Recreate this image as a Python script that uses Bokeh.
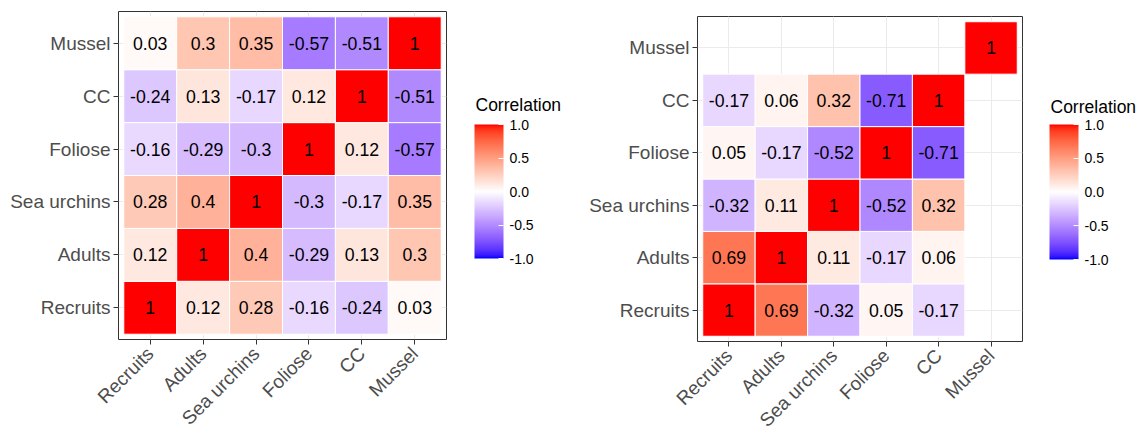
import numpy as np
from bokeh.plotting import figure
from bokeh.layouts import row
from bokeh.models import (ColumnDataSource, FactorRange, Range1d, ColorBar, LinearColorMapper,
                          FixedTicker, PrintfTickFormatter, Label)
from bokeh.core.properties import value
from bokeh.embed import file_html
from bokeh.resources import INLINE

# ---------------- data ----------------
categories = ["Recruits", "Adults", "Sea urchins", "Foliose", "CC", "Mussel"]

# left matrix: rows (y) listed bottom -> top, columns in category order
left_recruits = [1, 0.12, 0.28, -0.16, -0.24, 0.03]
left_adults = [0.12, 1, 0.4, -0.29, 0.13, 0.3]
left_sea_urchins = [0.28, 0.4, 1, -0.3, -0.17, 0.35]
left_foliose = [-0.16, -0.29, -0.3, 1, 0.12, -0.57]
left_cc = [-0.24, 0.13, -0.17, 0.12, 1, -0.51]
left_mussel = [0.03, 0.3, 0.35, -0.57, -0.51, 1]

# right matrix (None = no tile)
right_recruits = [1, 0.69, -0.32, 0.05, -0.17, None]
right_adults = [0.69, 1, 0.11, -0.17, 0.06, None]
right_sea_urchins = [-0.32, 0.11, 1, -0.52, 0.32, None]
right_foliose = [0.05, -0.17, -0.52, 1, -0.71, None]
right_cc = [-0.17, 0.06, 0.32, -0.71, 1, None]
right_mussel = [None, None, None, None, None, 1]

legend_title = "Correlation"
legend_ticks = [-1.0, -0.5, 0.0, 0.5, 1.0]

left_rows = [left_recruits, left_adults, left_sea_urchins, left_foliose, left_cc, left_mussel]
right_rows = [right_recruits, right_adults, right_sea_urchins, right_foliose, right_cc, right_mussel]

# ---------------- colour scale (ggplot gradient2 blue-white-red in Lab) ----------------
def hex_to_rgb(h):
    h = h.lstrip("#")
    return np.array([int(h[i:i + 2], 16) for i in (0, 2, 4)], dtype=float) / 255.0

def srgb_to_lin(c):
    return np.where(c <= 0.04045, c / 12.92, ((c + 0.055) / 1.055) ** 2.4)

def lin_to_srgb(c):
    c = np.clip(c, 0, 1)
    return np.where(c <= 0.0031308, 12.92 * c, 1.055 * c ** (1 / 2.4) - 0.055)

M = np.array([[0.4124564, 0.3575761, 0.1804375],
              [0.2126729, 0.7151522, 0.0721750],
              [0.0193339, 0.1191920, 0.9503041]])
Minv = np.linalg.inv(M)
WHITE = np.array([0.95047, 1.0, 1.08883])

def f_lab(t):
    d = 6 / 29
    return np.where(t > d ** 3, np.cbrt(t), t / (3 * d * d) + 4 / 29)

def finv_lab(t):
    d = 6 / 29
    return np.where(t > d, t ** 3, 3 * d * d * (t - 4 / 29))

def rgb_to_lab(rgb):
    xyz = M @ srgb_to_lin(rgb) / WHITE
    fx, fy, fz = f_lab(xyz)
    return np.array([116 * fy - 16, 500 * (fx - fy), 200 * (fy - fz)])

def lab_to_hex(lab):
    L, a, b = lab
    fy = (L + 16) / 116
    fx = fy + a / 500
    fz = fy - b / 200
    xyz = finv_lab(np.array([fx, fy, fz])) * WHITE
    rgb = lin_to_srgb(Minv @ xyz)
    r, g, b2 = (np.round(rgb * 255)).astype(int)
    return "#%02x%02x%02x" % (r, g, b2)

LAB_LOW = rgb_to_lab(hex_to_rgb("#0000ff"))
LAB_MID = rgb_to_lab(hex_to_rgb("#ffffff"))
LAB_HIGH = rgb_to_lab(hex_to_rgb("#ff0000"))

def corr_color(v):
    if v >= 0:
        lab = LAB_MID + (LAB_HIGH - LAB_MID) * v
    else:
        lab = LAB_MID + (LAB_LOW - LAB_MID) * (-v)
    return lab_to_hex(lab)

palette = [corr_color(v) for v in np.linspace(-1, 1, 256)]

FONT = "Liberation Sans"

def fmt(v):
    return f"{v:g}"

def build(rows, frame_w, frame_h, border_left, border_top, border_bottom, border_right):
    xs, ys, cols, labels = [], [], [], []
    for yi, r in enumerate(rows):
        for xi, v in enumerate(r):
            if v is None:
                continue
            xs.append(categories[xi])
            ys.append(categories[yi])
            cols.append(corr_color(v))
            labels.append(fmt(v))
    src = ColumnDataSource(dict(x=xs, y=ys, c=cols, t=labels))

    p = figure(x_range=FactorRange(factors=categories, range_padding=0.1, range_padding_units="absolute"),
               y_range=FactorRange(factors=categories, range_padding=0.1, range_padding_units="absolute"),
               frame_width=frame_w, frame_height=frame_h, title=None,
               min_border_left=border_left, min_border_top=border_top,
               min_border_bottom=border_bottom, min_border_right=border_right,
               output_backend="svg", toolbar_location=None)
    p.rect(x="x", y="y", width=1, height=1, source=src, fill_color="c",
           line_color="white", line_width=1)
    p.text(x="x", y="y", text="t", source=src, text_align="center", text_baseline="middle",
           text_font=value(FONT), text_font_size="17.7px", text_color="black")

    p.outline_line_color = "#333333"
    p.outline_line_width = 1
    p.grid.grid_line_color = "#ebebeb"
    p.grid.grid_line_width = 1
    for ax in (p.xaxis[0], p.yaxis[0]):
        ax.axis_line_color = None
        ax.major_tick_line_color = "#333333"
        ax.major_tick_out = 5
        ax.major_tick_in = 0
        ax.major_label_text_font = FONT
        ax.major_label_text_font_size = "19px"
        ax.major_label_text_color = "#4d4d4d"
    p.yaxis.major_label_standoff = 3
    p.xaxis.major_label_standoff = 6
    p.xaxis.major_label_orientation = np.pi / 4
    return p

def legend_fig(width, height, frame_h, bar_x, bar_bottom, bar_h, title_x, title_y):
    # frame of this figure is aligned with its neighbour plot: y range = frame pixels
    lg = figure(width=width, height=height, x_range=Range1d(0, width), y_range=Range1d(0, frame_h),
                x_axis_location=None, y_axis_location=None, title=None,
                min_border=0, output_backend="svg", toolbar_location=None)
    lg.outline_line_color = None
    lg.grid.visible = False
    mapper = LinearColorMapper(palette=palette, low=-1, high=1)
    cb = ColorBar(color_mapper=mapper, ticker=FixedTicker(ticks=legend_ticks),
                  formatter=PrintfTickFormatter(format="%.1f"),
                  width=29, height=bar_h, location=(bar_x, bar_bottom), orientation="vertical",
                  title=None,
                  major_label_text_font=FONT, major_label_text_font_size="14px",
                  major_label_text_color="black", label_standoff=6,
                  major_tick_line_color="white", major_tick_in=5, major_tick_out=0,
                  bar_line_color=None, border_line_color=None, background_fill_color=None,
                  padding=0, margin=0)
    lg.add_layout(cb, "center")
    lg.add_layout(Label(x=title_x, y=title_y, text=legend_title, text_font=FONT,
                        text_font_size="17.5px", text_color="black",
                        text_align="left", text_baseline="alphabetic"))
    return lg

p1 = build(left_rows, 328, 328, 118, 11, 90, 10)
l1 = legend_fig(124, 429, 328, 18, 71, 134, 19, 232)
p2 = build(right_rows, 325, 325, 117, 16, 89, 10)
l2 = legend_fig(105, 430, 325, 17, 71, 135, 18, 231)

layout = row(row(p1, l1), row(p2, l2))
open("out.html", "w").write(file_html(layout, INLINE))
